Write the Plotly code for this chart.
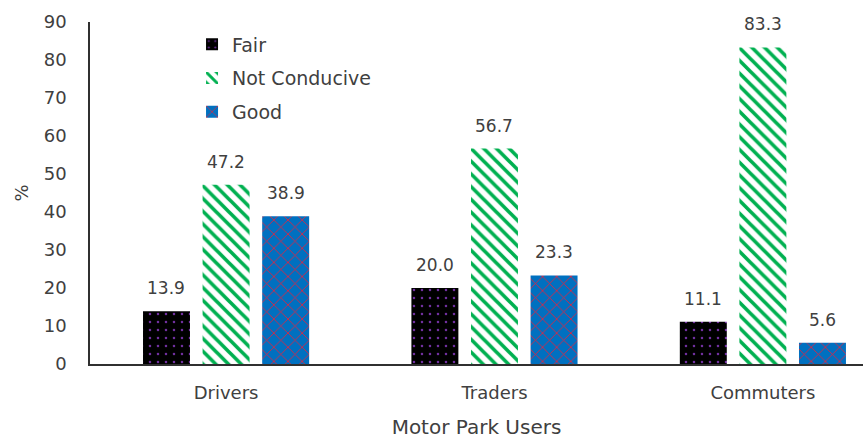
import plotly.graph_objects as go

categories = ["Drivers", "Traders", "Commuters"]
fair = [13.9, 20.0, 11.1]
not_conducive = [47.2, 56.7, 83.3]
good = [38.9, 23.3, 5.6]
y_ticks = [0, 10, 20, 30, 40, 50, 60, 70, 80, 90]

FONT = "DejaVu Sans, Verdana, sans-serif"
TXT = "#404040"
W = 0.175
X_RANGE = [-0.507, 2.373]
PLOT_W = 863 - 90
PX_PER_CAT = PLOT_W / (X_RANGE[1] - X_RANGE[0])

fig = go.Figure()
series = [
    ("Fair", fair, dict(shape=".", bgcolor="#000000", fgcolor="#7030A0", size=8, solidity=0.08), -0.222),
    ("Not Conducive", not_conducive, dict(shape="\\", bgcolor="#FFFFFF", fgcolor="#00B050", size=9, solidity=0.4), 0.0),
    ("Good", good, dict(shape="x", bgcolor="#0070C0", fgcolor="#E8213A", size=10, solidity=0.16), 0.222),
]
annotations = []
for i, (name, vals, pat, off) in enumerate(series):
    pat = dict(pat, fillmode="replace", fgopacity=1)
    fig.add_trace(go.Bar(
        name=name, x=categories, y=vals, width=W, offset=off - W / 2,
        marker=dict(color=pat["bgcolor"], pattern=pat, line=dict(width=0)),
        cliponaxis=False, legendgroup=f"g{i}",
    ))
    for c, v in zip(categories, vals):
        annotations.append(dict(
            x=c, y=v, xref="x", yref="y", text=f"{v:.1f}", showarrow=False,
            xanchor="center", yanchor="middle", xshift=off * PX_PER_CAT, yshift=23,
            font=dict(family=FONT, size=17, color=TXT),
        ))

fig.update_layout(
    width=863, height=439,
    margin=dict(l=90, r=0, t=22, b=75, autoexpand=False),
    plot_bgcolor="white", paper_bgcolor="white",
    barmode="group",
    font=dict(family=FONT, size=17, color=TXT),
    showlegend=True,
    annotations=annotations,
    legend=dict(x=0.132, y=0.99, xanchor="left", yanchor="top",
                font=dict(family=FONT, size=19, color=TXT),
                tracegroupgap=6, bgcolor="rgba(0,0,0,0)", itemwidth=30),
    xaxis=dict(range=X_RANGE, showline=True, linecolor="#303030", linewidth=1.5,
               ticks="", automargin=False, ticklabelstandoff=12,
               tickfont=dict(family=FONT, size=18, color=TXT),
               title=dict(text="Motor Park Users", font=dict(family=FONT, size=20, color=TXT), standoff=19)),
    yaxis=dict(range=[0, 90], tickvals=y_ticks, showline=True, linecolor="#303030", linewidth=1.5,
               showgrid=False, zeroline=False, ticks="", automargin=False, ticklabelstandoff=18,
               tickfont=dict(family=FONT, size=18, color=TXT),
               title=dict(text="%", font=dict(family=FONT, size=18, color=TXT), standoff=10)),
)
fig.write_html("out.html", config={"displayModeBar": False},
               post_script="document.body.style.margin='0';document.body.style.padding='0';")
